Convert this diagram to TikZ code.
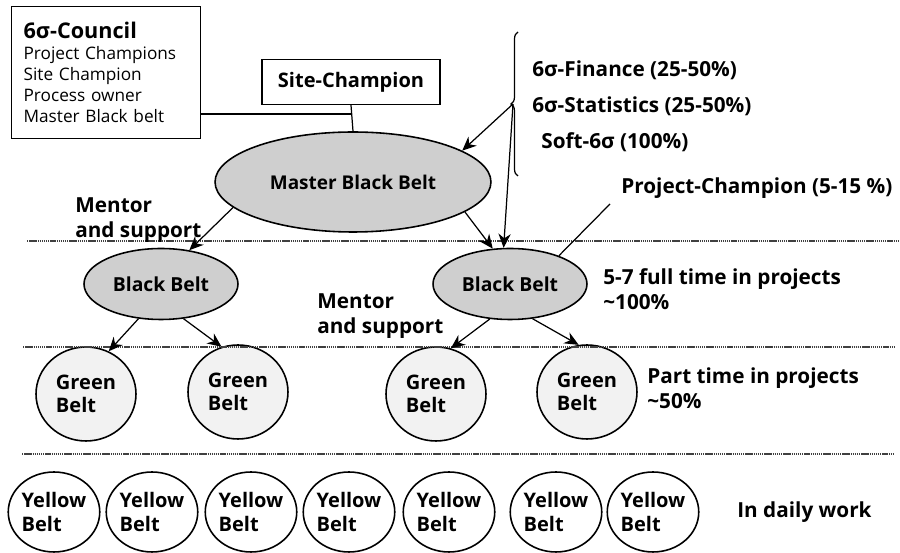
\documentclass[tikz,border=0pt]{standalone}
\usepackage{fontspec}
\setmainfont{Open Sans}
\usetikzlibrary{shapes.geometric,arrows.meta,decorations.pathreplacing}

\tikzset{
  belt/.style={ellipse, draw, line width=0.9pt, inner sep=0pt, font=\fontsize{10.8pt}{12.6pt}\selectfont\bfseries},
  blackbelt/.style={belt, fill=black!19},
  greenbelt/.style={belt, fill=black!5, minimum width=2cm, minimum height=1.88cm, align=left,
    font=\fontsize{11.4pt}{13.2pt}\selectfont\bfseries},
  yellowbelt/.style={belt, fill=white, minimum width=1.82cm, minimum height=1.6cm, align=left,
    font=\fontsize{11.4pt}{13.2pt}\selectfont\bfseries},
  boxnode/.style={draw, line width=0.7pt, inner sep=0pt},
  label/.style={anchor=west, font=\fontsize{11.8pt}{14.4pt}\selectfont\bfseries, align=left, inner sep=0pt},
  arr/.style={-{Stealth[length=8pt,width=7pt]}, line width=0.7pt},
  sep/.style={line width=0.6pt, black!75, dash pattern=on 0.8pt off 0.4pt}
}

\begin{document}
\begin{tikzpicture}[x=0.02cm, y=-0.02cm]
\useasboundingbox (0,0) rectangle (900,553);

% council and site champion
\node[boxnode, anchor=north west, minimum width=3.78cm, minimum height=2.64cm, inner xsep=0.24cm,
      text width=3.3cm, align=left, font=\fontsize{9.8pt}{11.9pt}\selectfont] (council) at (11,6)
  {{\fontsize{12.3pt}{14pt}\selectfont\bfseries 6σ-Council}\\Project Champions\\Site Champion\\Process owner\\Master Black belt};
\node[boxnode, minimum width=3.56cm, minimum height=0.9cm, font=\fontsize{11.4pt}{13pt}\selectfont\bfseries] (site) at (351,82) {Site-Champion};

% belts
\node[blackbelt, minimum width=5.52cm, minimum height=2cm] (mbb) at (353,182) {Master Black Belt};
\node[blackbelt, minimum width=3.08cm, minimum height=1.42cm, font=\fontsize{11pt}{13pt}\selectfont\bfseries] (bbl) at (161,284) {Black Belt};
\node[blackbelt, minimum width=3.08cm, minimum height=1.42cm, font=\fontsize{11pt}{13pt}\selectfont\bfseries] (bbr) at (510,284) {Black Belt};

\node[greenbelt] (gb1) at (86,394) {Green\\Belt};
\node[greenbelt] (gb2) at (238,392) {Green\\Belt};
\node[greenbelt] (gb3) at (436,394) {Green\\Belt};
\node[greenbelt] (gb4) at (587,392) {Green\\Belt};

\foreach \x [count=\i] in {54,152,251,349,449,556,653}
  \node[yellowbelt] (yb\i) at (\x,512) {Yellow\\Belt};

% separators
\draw[sep] (27,241) -- (900,241);
\draw[sep] (23,347) -- (895,347);
\draw[sep] (22,454) -- (893,454);

% labels
\node[label] (fin) at (532,70) {6σ-Finance (25-50\%)};
\node[label] (stat) at (532,106) {6σ-Statistics (25-50\%)};
\node[label] (soft) at (541,142) {Soft-6σ (100\%)};
\node[label] (pchamp) at (621,188) {Project-Champion (5-15 \%)};
\node[label] (ment1) at (75,220) {Mentor\\and support};
\node[label] (ment2) at (317,316) {Mentor\\and support};
\node[label] (full) at (603,289) {5-7 full time in projects\\\textasciitilde100\%};
\node[label] (part) at (647,388) {Part time in projects\\\textasciitilde50\%};
\node[label] (daily) at (737,512) {In daily work};

% connectors
\coordinate (junct) at (site.south |- 0,114);
\draw[line width=0.7pt] (council.east |- junct) -- (junct);
\draw[line width=0.7pt] (site.south) -- (mbb.north);

\draw[line width=0.7pt, decorate, decoration={brace, amplitude=4pt}] (518,176) -- (518,32);
\coordinate (tip) at (513,104);
\draw[arr] (tip) -- (mbb.16);
\draw[arr] (tip) -- (bbr.100);

\coordinate (pcend) at (610,204);
\draw[line width=0.7pt] (pcend) -- (bbr.30);

\draw[arr] (mbb.192) -- (bbl.50);
\draw[arr] (mbb.345) -- (bbr.116);

\draw[arr] (bbl.237) -- (gb1.62);
\draw[arr] (bbl.303) -- (gb2.110);
\draw[arr] (bbr.240) -- (gb3.72);
\draw[arr] (bbr.303) -- (gb4.100);
\end{tikzpicture}
\end{document}
